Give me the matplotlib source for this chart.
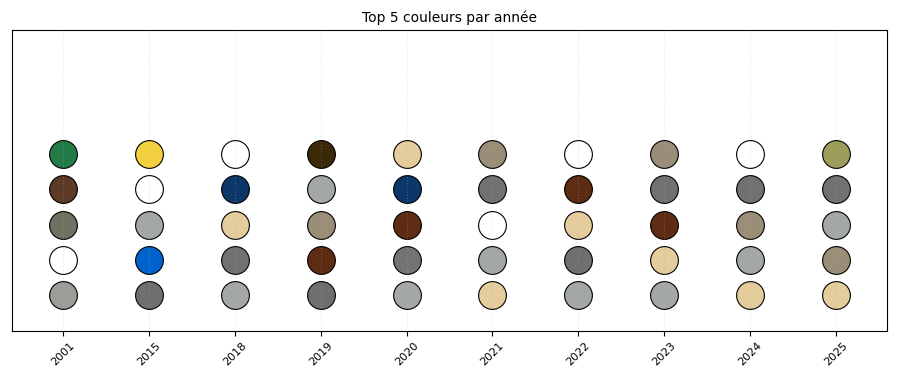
import matplotlib
matplotlib.use("Agg")
import matplotlib.pyplot as plt

years = ['2001', '2015', '2018', '2019', '2020', '2021', '2022', '2023', '2024', '2025']

# colours per year, rank 1 (top) to rank 5 (bottom)
c2001 = ['#237b48', '#5c3a25', '#707160', '#ffffff', '#9a9d98']
c2015 = ['#f3d03e', '#ffffff', '#a4a7a8', '#0062cc', '#6f706e']
c2018 = ['#ffffff', '#0b3868', '#e4cc9d', '#717270', '#a4a7a8']
c2019 = ['#3a2806', '#a4a7a8', '#9b8e78', '#5e2c12', '#6f706e']
c2020 = ['#e4cc9d', '#0b3868', '#5e2c12', '#717470', '#a4a7a8']
c2021 = ['#9b8e78', '#717270', '#ffffff', '#a4a7a8', '#e4cc9d']
c2022 = ['#ffffff', '#5e2c12', '#e4cc9d', '#6f706e', '#a4a7a8']
c2023 = ['#9b8e78', '#717270', '#5e2c12', '#e4cc9d', '#a4a7a8']
c2024 = ['#ffffff', '#717270', '#9b8e78', '#a4a7a8', '#e4cc9d']
c2025 = ['#9e9e5c', '#717270', '#a4a7a8', '#9b8e78', '#e4cc9d']

all_colors = [c2001, c2015, c2018, c2019, c2020, c2021, c2022, c2023, c2024, c2025]
ranks = [1, 2, 3, 4, 5]

fig, ax = plt.subplots(figsize=(9, 3.8), dpi=100)

for i, cols in enumerate(all_colors):
    for r, c in zip(ranks, cols):
        ax.scatter(i, 6 - r, s=400, color=c, edgecolor='black', linewidth=0.8, zorder=2)

ax.set_xticks(range(len(years)))
ax.set_xticklabels(years, rotation=45, fontsize=8)
ax.set_yticks([])
ax.set_xlim(-0.6, len(years) - 0.4)
ax.set_ylim(0, 8.5)
ax.grid(axis='x', linestyle=':', alpha=0.3, zorder=3)
ax.set_axisbelow(False)
ax.set_title('Top 5 couleurs par année', fontsize=10)

plt.subplots_adjust(left=0.013, right=0.986, top=0.92, bottom=0.13)
plt.savefig('out.png')
